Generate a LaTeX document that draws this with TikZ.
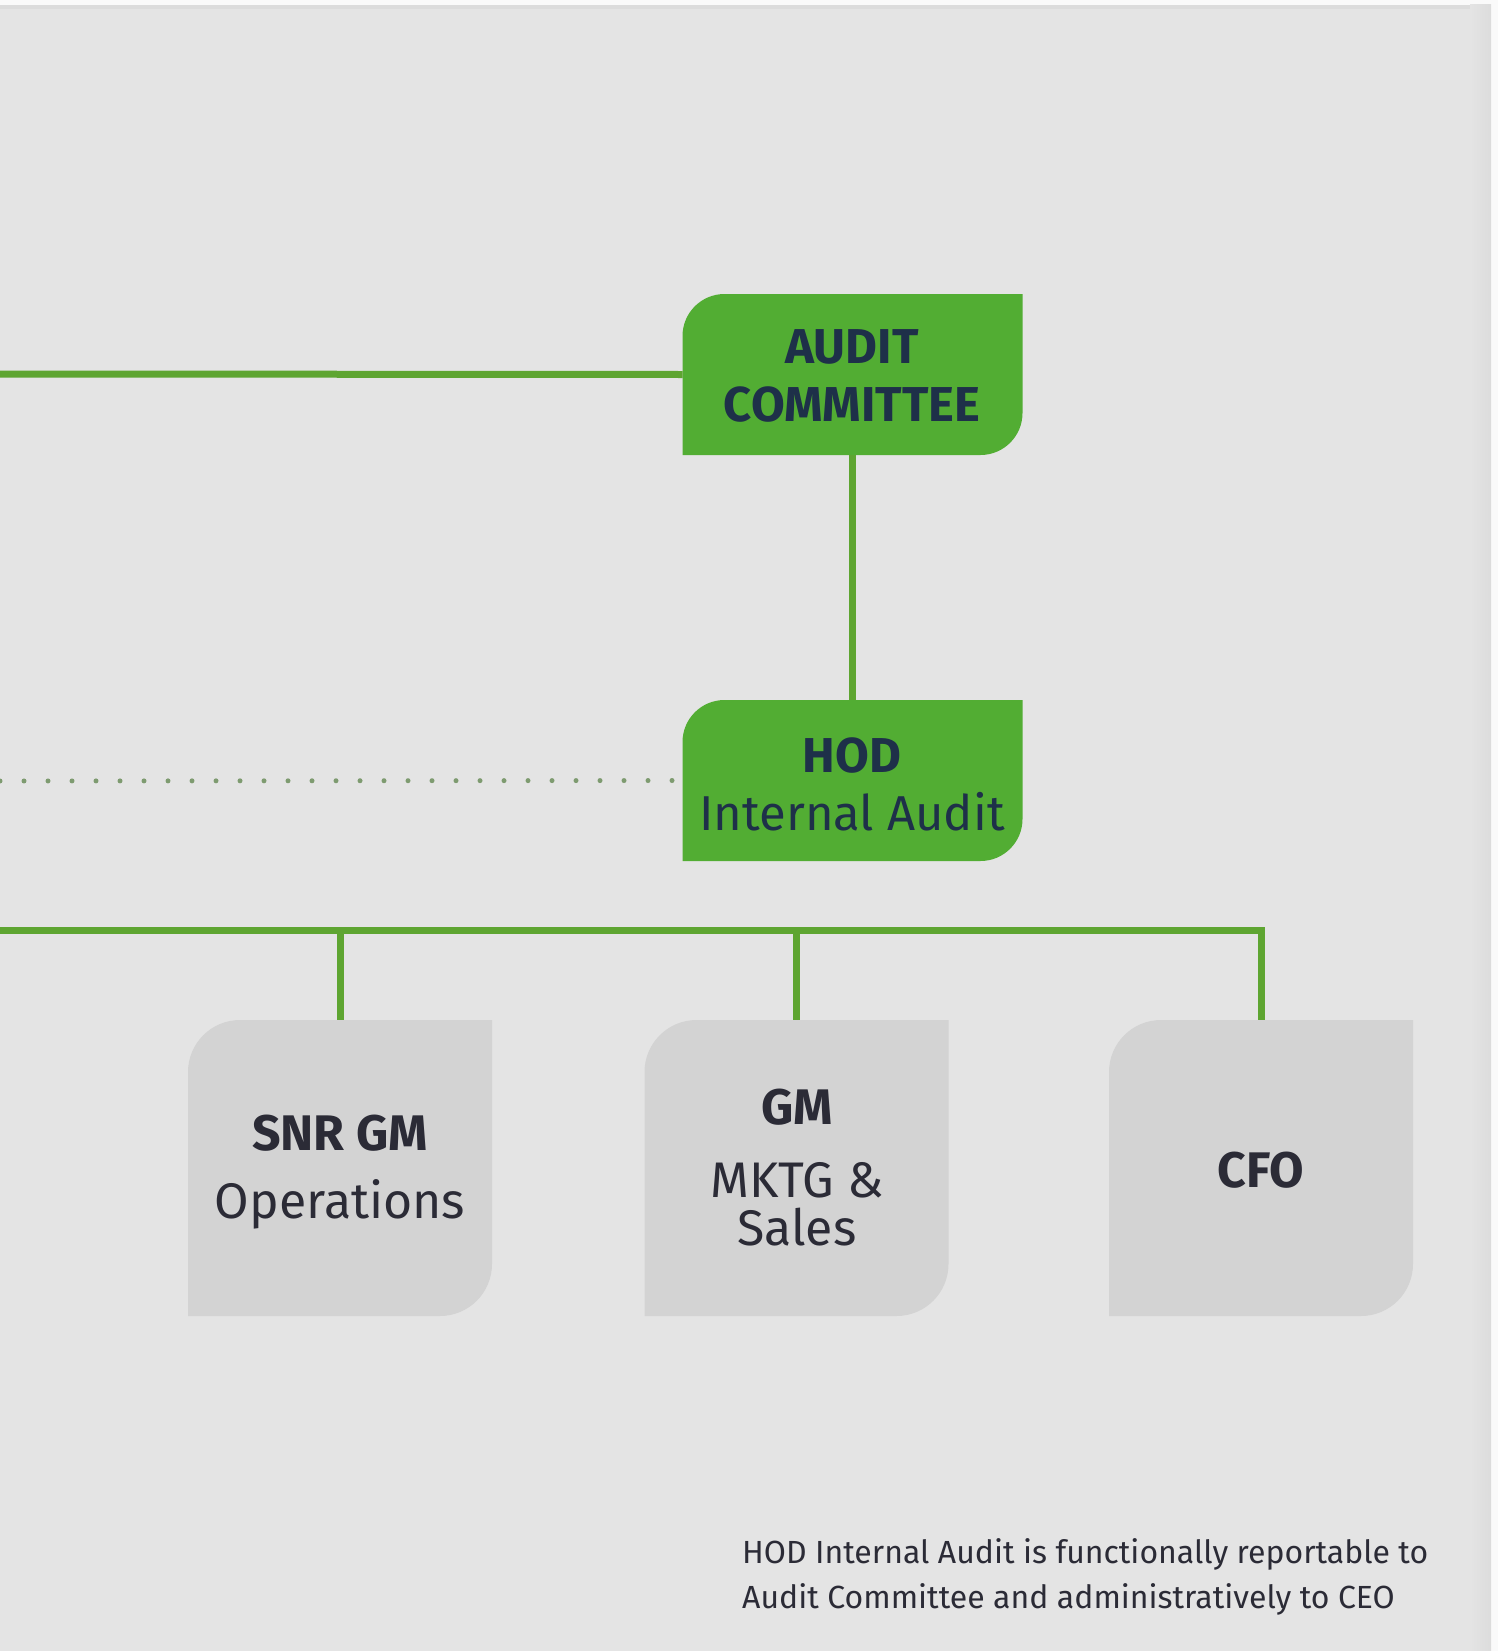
\documentclass[tikz,border=0pt]{standalone}
\usepackage{fontspec}
\setmainfont{Fira Sans}
\usetikzlibrary{backgrounds}

\definecolor{pagebg}{HTML}{FAFAFA}
\definecolor{panel}{HTML}{E4E4E4}
\definecolor{paneledge}{HTML}{DCDCDC}
\definecolor{leafgreen}{HTML}{52AD33}
\definecolor{linkgreen}{HTML}{5EA531}
\definecolor{dotgreen}{HTML}{7E9B70}
\definecolor{leafgray}{HTML}{D3D3D3}
\definecolor{navytext}{HTML}{1E3049}
\definecolor{graytext}{HTML}{2B2B36}

% leaf-shaped box: rounded top-left and bottom-right corners
\newcommand\leafpath[3]{%
  \fill[#2] (#1.west) [rounded corners=#3] -- (#1.north west) -- (#1.north)
    [sharp corners] -- (#1.north east) -- (#1.east)
    [rounded corners=#3] -- (#1.south east) -- (#1.south)
    [sharp corners] -- (#1.south west) -- cycle;}

\begin{document}
\begin{tikzpicture}[x=1pt,y=-1pt,
  box/.style={inner sep=0pt, outer sep=0pt},
  greenbox/.style={box, minimum width=340pt, minimum height=161pt},
  graybox/.style={box, minimum width=304pt, minimum height=296pt},
  link/.style={draw=linkgreen, line width=7pt},
  dots/.style={draw=dotgreen, line width=5pt, line cap=round, dash pattern=on 0pt off 24pt},
  txt/.style={anchor=base, inner sep=0pt},
  headtxt/.style={txt, font=\fontsize{49}{58}\selectfont\bfseries, text=navytext},
  subtxt/.style={txt, font=\fontsize{49}{58}\selectfont, text=navytext},
  grayhead/.style={txt, font=\fontsize{50}{60}\selectfont\bfseries, text=graytext},
  graysub/.style={txt, font=\fontsize{50}{60}\selectfont, text=graytext},
  notetxt/.style={anchor=base west, inner sep=0pt, font=\fontsize{32}{45}\selectfont, text=graytext}]

\useasboundingbox (0,0) rectangle (1498,1651);

% boxes
\node[greenbox] (ac)  at (852.5,374.5) {};
\node[greenbox] (hod) at (852.5,780.5) {};
\node[graybox]  (snr) at (340,1168) {};
\node[graybox]  (gm)  at (796.5,1168) {};
\node[graybox]  (cfo) at (1261,1168) {};

% box texts
\node[headtxt] (acA) at (852,363) {AUDIT};
\node[headtxt] (acB) at (852,421) {COMMITTEE};
\node[headtxt] (hodA) at (852,772) {HOD};
\node[subtxt]  (hodB) at (852,830) {Internal Audit};
\node[grayhead] (snrA) at (340,1150) {SNR GM};
\node[graysub]  (snrB) at (340,1218) {Operations};
\node[grayhead] (gmA) at (797,1124) {GM};
\node[graysub]  (gmB) at (797,1197) {MKTG \&};
\node[graysub]  (gmC) at (797,1245) {Sales};
\node[grayhead] (cfoA) at (1261,1187) {CFO};

% footnote
\node[notetxt] (noteA) at (742,1563) {HOD Internal Audit is functionally reportable to};
\node[notetxt] (noteB) at (742,1608) {Audit Committee and administratively to CEO};

% reporting lines
\coordinate (acL) at (0,374);
\coordinate (dotL) at (0,781);
\coordinate (busL) at (0,930);
\draw[link] (acL) -- (ac.west);
\draw[link] (ac.south) -- (hod.north);
\draw[dots] (dotL) -- (hod.west);
\draw[link] (busL) -- (busL -| cfo.north) -- (cfo.north);
\draw[link] (busL -| snr.north) -- (snr.north);
\draw[link] (busL -| gm.north) -- (gm.north);

\begin{pgfonlayer}{background}
  \fill[pagebg] (0,0) rectangle (1498,1651);
  \fill[panel] (0,5) rectangle (1491,1651);
  \fill[paneledge] (0,5) rectangle (1491,9);
  \shade[left color=panel, right color=paneledge] (1470,5) rectangle (1491,1651);
  \leafpath{ac}{leafgreen}{42pt}
  \leafpath{hod}{leafgreen}{42pt}
  \leafpath{snr}{leafgray}{52pt}
  \leafpath{gm}{leafgray}{52pt}
  \leafpath{cfo}{leafgray}{52pt}
\end{pgfonlayer}
\end{tikzpicture}
\end{document}
